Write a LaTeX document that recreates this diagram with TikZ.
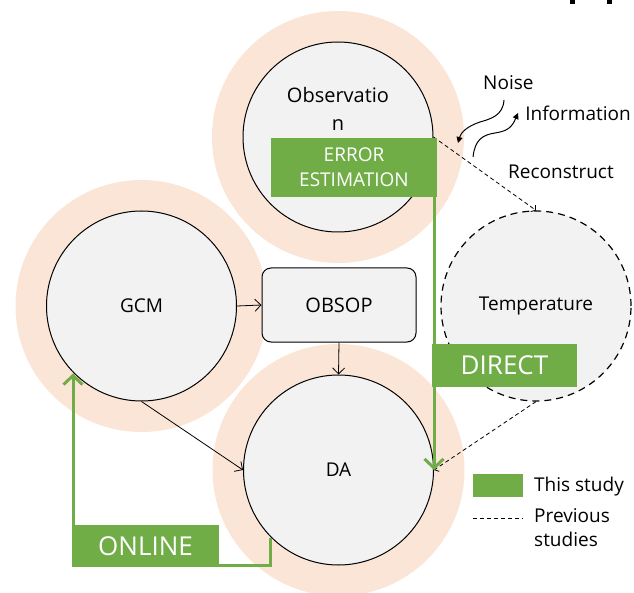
\documentclass[tikz,border=0pt]{standalone}
\usepackage{fontspec}
\setmainfont{Open Sans}
\usetikzlibrary{arrows.meta}
\definecolor{halo}{HTML}{FBE5D6}
\definecolor{innerfill}{HTML}{F2F2F2}
\definecolor{grn}{HTML}{70AD47}
\begin{document}
\begin{tikzpicture}[x=1pt,y=-1pt,
  core/.style={circle, draw=black, line width=1pt, fill=innerfill, minimum size=190pt, inner sep=0pt, font=\fontsize{19}{28}\selectfont, align=center},
  lbl/.style={font=\fontsize{19}{28}\selectfont, align=center, inner sep=0pt},
  greenbox/.style={fill=grn, text=white, inner sep=0pt, align=center},
  thinarrow/.style={line width=0.8pt, -{Straight Barb[length=6pt,width=12pt]}},
  dasharrow/.style={line width=0.8pt, dash pattern=on 4pt off 3pt, -{Straight Barb[length=3pt,width=8pt]}},
  greenarrow/.style={draw=grn, line width=3pt, -{Straight Barb[length=9pt,width=19pt]}},
  wavy/.style={line width=1pt, -{Triangle[length=6pt,width=6pt]}}
]
\useasboundingbox (0,0) rectangle (634,593);
\begin{scope}
\clip (0,0) rectangle (634,593);
% halos
\fill[halo] (338,137) circle (126pt);
\fill[halo] (141.5,306) circle (126pt);
\fill[halo] (338.5,470) circle (126pt);

% main circles
\node[core] (obs) at (338,137) {};
\node[lbl, font=\fontsize{20}{28}\selectfont] (obstext) at (338,109) {Observatio\\n};
\node[core] (gcm) at (141.5,306) {GCM};
\node[core] (da) at (338.5,470) {DA};
\node[core, dash pattern=on 7pt off 5pt, line width=1.2pt, font=\fontsize{19}{22}\selectfont] (temp) at (536,306) {Temperature};

% OBSOP
\node[draw, rounded corners=9pt, fill=innerfill, line width=1pt, minimum width=154pt, minimum height=74pt, font=\fontsize{20}{22}\selectfont] (obsop) at (339,305) {OBSOP};

% black connectors
\draw[thinarrow] (gcm.east) -- (obsop.west);
\draw[thinarrow] (obsop.south) -- (da.north);
\draw[thinarrow] (gcm.south) -- (da.west);
\draw[dasharrow] (obs.east) -- (temp.north);
\draw[dasharrow] (temp.south) -- (da.east);

% green connectors
\node[greenbox, minimum width=166pt, minimum height=59pt, font=\fontsize{19}{25}\selectfont] (err) at (354,167.5) {ERROR\\ESTIMATION};
\draw[greenarrow] (err.south -| da.east) -- (da.east);
\node[greenbox, minimum width=145pt, minimum height=43pt, font=\fontsize{26}{28}\selectfont] (direct) at (504.5,365.5) {DIRECT};

\coordinate (oc) at (73,565);
\draw[greenarrow] (da.225) |- (oc) -- (oc |- gcm.225);
\node[greenbox, minimum width=147pt, minimum height=42pt, font=\fontsize{26}{28}\selectfont] (online) at (145.5,546) {ONLINE};

% noise / information
\node[lbl, anchor=west] (noise) at (483,83) {Noise};
\node[lbl, anchor=east] (info) at (631,113) {Information};
\node[lbl, anchor=west] (recon) at (508,172) {Reconstruct};
\coordinate (n1) at (504,100);
\coordinate (n2) at (458,143);
\coordinate (i1) at (473,157);
\coordinate (i2) at (518,113);
\draw[wavy] (n1) .. controls (503,116) and (490,119) .. (480,122) .. controls (468,126) and (461,132) .. (n2);
\draw[wavy] (i1) .. controls (475,140) and (482,135) .. (495,133) .. controls (508,131) and (512,127) .. (i2);

% legend
\node[fill=grn, minimum width=50pt, minimum height=23pt, inner sep=0pt] (legbox) at (498,485.5) {};
\node[lbl, anchor=west] (legtxt1) at (534,487) {This study};
\coordinate (ld1) at (473,518);
\coordinate (ld2) at (523,518);
\draw[line width=0.8pt, dash pattern=on 4pt off 3pt] (ld1) -- (ld2);
\node[lbl, anchor=west, align=left, font=\fontsize{19}{24}\selectfont] (legtxt2) at (534,528) {Previous\\studies};

% cut-off marks at top edge
\fill (570,0) rectangle (575,4);
\fill (607,0) rectangle (612,4);
\end{scope}
\end{tikzpicture}
\end{document}
